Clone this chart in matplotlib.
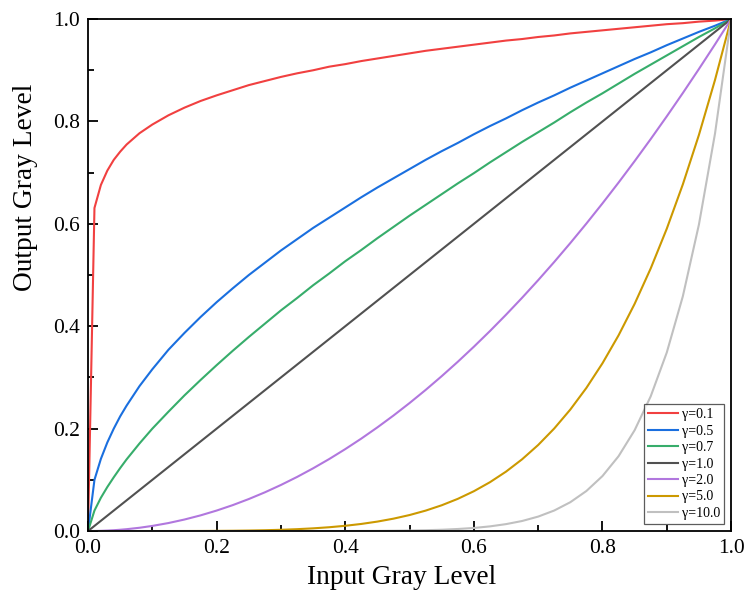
#!/usr/bin/env python3
"""Gamma transform curves: output gray level vs input gray level."""

import matplotlib
matplotlib.use("Agg")
import matplotlib.pyplot as plt
from matplotlib.ticker import MultipleLocator

plt.rcParams.update({
    "font.family": "serif",
    "font.serif": ["Liberation Serif", "DejaVu Serif"],
    "axes.linewidth": 1.3,
    "xtick.direction": "in",
    "ytick.direction": "in",
})

# ── Data ─────────────────────────────────────────────────────────────────────
x_in = [0, 0.01, 0.02, 0.03, 0.04, 0.05, 0.06, 0.08, 0.1,
        0.125, 0.15, 0.175, 0.2, 0.225, 0.25, 0.275, 0.3, 0.325,
        0.35, 0.375, 0.4, 0.425, 0.45, 0.475, 0.5, 0.525, 0.55,
        0.575, 0.6, 0.625, 0.65, 0.675, 0.7, 0.725, 0.75, 0.775,
        0.8, 0.825, 0.85, 0.875, 0.9, 0.925, 0.95, 0.975, 1.0]

y_g01 = [0, 0.631, 0.676, 0.704, 0.725, 0.741, 0.755, 0.777, 0.794,
         0.812, 0.827, 0.840, 0.851, 0.861, 0.871, 0.879, 0.887, 0.894,
         0.900, 0.907, 0.912, 0.918, 0.923, 0.928, 0.933, 0.938, 0.942,
         0.946, 0.950, 0.954, 0.958, 0.961, 0.965, 0.968, 0.972, 0.975,
         0.978, 0.981, 0.984, 0.987, 0.990, 0.992, 0.995, 0.997, 1.0]
y_g05 = [0, 0.100, 0.141, 0.173, 0.200, 0.224, 0.245, 0.283, 0.316,
         0.354, 0.387, 0.418, 0.447, 0.474, 0.500, 0.524, 0.548, 0.570,
         0.592, 0.612, 0.632, 0.652, 0.671, 0.689, 0.707, 0.725, 0.742,
         0.758, 0.775, 0.791, 0.806, 0.822, 0.837, 0.851, 0.866, 0.880,
         0.894, 0.908, 0.922, 0.935, 0.949, 0.962, 0.975, 0.987, 1.0]
y_g07 = [0, 0.040, 0.065, 0.086, 0.105, 0.123, 0.140, 0.171, 0.200,
         0.233, 0.265, 0.295, 0.324, 0.352, 0.379, 0.405, 0.431, 0.455,
         0.480, 0.503, 0.527, 0.549, 0.572, 0.594, 0.616, 0.637, 0.658,
         0.679, 0.699, 0.720, 0.740, 0.760, 0.779, 0.798, 0.818, 0.837,
         0.855, 0.874, 0.893, 0.911, 0.929, 0.947, 0.965, 0.982, 1.0]
y_g10 = [0, 0.01, 0.02, 0.03, 0.04, 0.05, 0.06, 0.08, 0.1,
         0.125, 0.15, 0.175, 0.2, 0.225, 0.25, 0.275, 0.3, 0.325,
         0.35, 0.375, 0.4, 0.425, 0.45, 0.475, 0.5, 0.525, 0.55,
         0.575, 0.6, 0.625, 0.65, 0.675, 0.7, 0.725, 0.75, 0.775,
         0.8, 0.825, 0.85, 0.875, 0.9, 0.925, 0.95, 0.975, 1.0]
y_g20 = [0, 0.0001, 0.0004, 0.0009, 0.0016, 0.0025, 0.0036, 0.0064, 0.0100,
         0.0156, 0.0225, 0.0306, 0.0400, 0.0506, 0.0625, 0.0756, 0.0900, 0.1056,
         0.1225, 0.1406, 0.1600, 0.1806, 0.2025, 0.2256, 0.2500, 0.2756, 0.3025,
         0.3306, 0.3600, 0.3906, 0.4225, 0.4556, 0.4900, 0.5256, 0.5625, 0.6006,
         0.6400, 0.6806, 0.7225, 0.7656, 0.8100, 0.8556, 0.9025, 0.9506, 1.0]
y_g50 = [0, 0, 0, 0, 0, 0, 0, 0, 0.00001,
         0.00003, 0.00008, 0.00016, 0.00032, 0.00058, 0.00098, 0.00157, 0.00243, 0.00363,
         0.00525, 0.00742, 0.01024, 0.01387, 0.01845, 0.02418, 0.03125, 0.03988, 0.05033,
         0.06286, 0.07776, 0.09537, 0.11603, 0.14013, 0.16807, 0.20030, 0.23730, 0.27958,
         0.32768, 0.38218, 0.44371, 0.51291, 0.59049, 0.67719, 0.77378, 0.88110, 1.0]
y_g100 = [0, 0, 0, 0, 0, 0, 0, 0, 0,
          0, 0, 0, 0, 0, 0, 0, 0, 0,
          0.00003, 0.00006, 0.0001, 0.0002, 0.0003, 0.0006, 0.0010, 0.0016, 0.0025,
          0.0040, 0.0060, 0.0091, 0.0135, 0.0196, 0.0282, 0.0401, 0.0563, 0.0782,
          0.1074, 0.1461, 0.1969, 0.2631, 0.3487, 0.4586, 0.5987, 0.7763, 1.0]

labels = ["γ=0.1", "γ=0.5", "γ=0.7", "γ=1.0", "γ=2.0", "γ=5.0", "γ=10.0"]
series = [y_g01, y_g05, y_g07, y_g10, y_g20, y_g50, y_g100]
colors = ["#F14040", "#1A6FDF", "#37AD6B", "#515151", "#B177DE", "#CC9900",
          "#C0C0C0"]

# ── Figure ───────────────────────────────────────────────────────────────────
fig = plt.figure(figsize=(7.46, 5.96), dpi=100)
ax = fig.add_axes([0.118, 0.109, 0.862, 0.859])

for ys, lab, c in zip(series, labels, colors):
    ax.plot(x_in, ys, color=c, lw=1.5, label=lab)

ax.set_xlim(0, 1)
ax.set_ylim(0, 1)
ax.xaxis.set_major_locator(MultipleLocator(0.2))
ax.xaxis.set_minor_locator(MultipleLocator(0.1))
ax.yaxis.set_major_locator(MultipleLocator(0.2))
ax.yaxis.set_minor_locator(MultipleLocator(0.1))
ax.tick_params(which="major", length=7, width=1.3, labelsize=15.5, pad=6)
ax.tick_params(which="minor", length=4, width=1.3)
ax.tick_params(which="both", top=False, right=False)

# labels sit off-centre in the original (Origin-style export)
ax.set_xlabel("Input Gray Level", fontsize=19.7)
ax.set_ylabel("Output Gray Level", fontsize=19.7)
ax.xaxis.set_label_coords(0.488, -0.066)
ax.yaxis.set_label_coords(-0.078, 0.671)

leg = ax.legend(loc="lower right", fontsize=10, frameon=True, fancybox=False,
                edgecolor="#333333", handlelength=2.1, handletextpad=0.3,
                labelspacing=0.25, borderpad=0.3, borderaxespad=0.5)
leg.get_frame().set_linewidth(0.9)

fig.savefig("out.png", dpi=100)
plt.close(fig)
